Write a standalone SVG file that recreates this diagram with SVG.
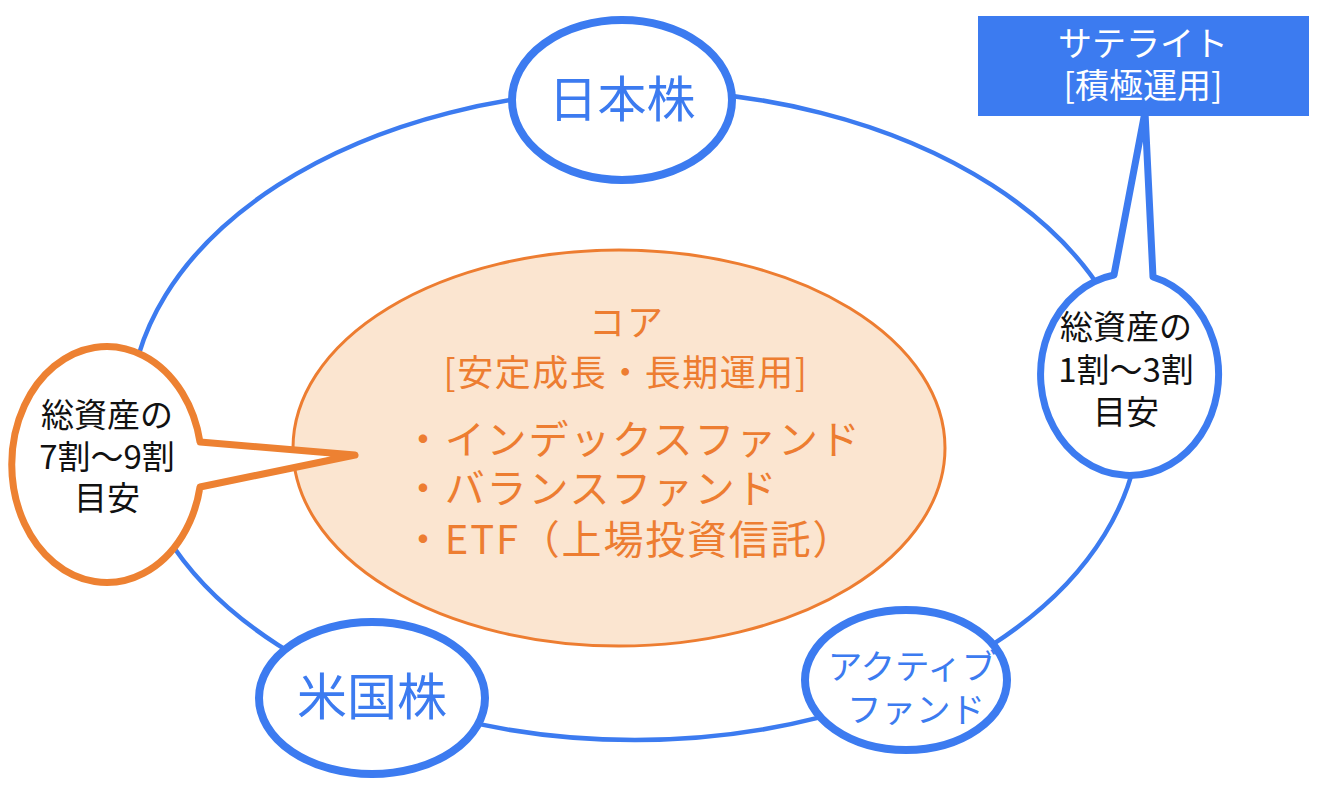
<svg xmlns="http://www.w3.org/2000/svg" width="1320" height="799" viewBox="0 0 1320 799">
<style>
.t{font-family:"Noto Sans CJK JP","Noto Sans",sans-serif;}
.blue{fill:#3c7bf0;}
.or{fill:#ed7d31;}
.blk{fill:#111;}
.node{fill:#fff;stroke:#3c7bf0;stroke-width:8;}
</style>
<rect width="1320" height="799" fill="#fff"/>
<g id="connectors">
<ellipse cx="635" cy="415" rx="505" ry="325" fill="none" stroke="#3c7bf0" stroke-width="4.5"/>
</g>
<g id="core">
<ellipse cx="619" cy="448" rx="326" ry="198" fill="#fbe5d0" stroke="#ed7d31" stroke-width="3"/>
<text class="t or" x="627" y="336" font-size="36" letter-spacing="2" text-anchor="middle">コア</text>
<text class="t or" x="626" y="386" font-size="36" letter-spacing="1.5" text-anchor="middle">[安定成長・長期運用]</text>
<text class="t or" x="403" y="454" font-size="40" letter-spacing="1.8">・インデックスファンド</text>
<text class="t or" x="403" y="503" font-size="40" letter-spacing="1.8">・バランスファンド</text>
<text class="t or" x="403" y="554" font-size="40" letter-spacing="1.8">・ETF（上場投資信託）</text>
</g>
<g id="nihon">
<ellipse class="node" cx="622" cy="100" rx="110" ry="80"/>
<text class="t blue" x="622" y="117" font-size="49" text-anchor="middle">日本株</text>
</g>
<g id="beikoku">
<ellipse class="node" cx="372" cy="698" rx="113" ry="76"/>
<text class="t blue" x="372" y="715" font-size="50" text-anchor="middle">米国株</text>
</g>
<g id="active">
<ellipse class="node" cx="906" cy="680" rx="101" ry="70"/>
<text class="t blue" x="912" y="679" font-size="34.5" text-anchor="middle">アクティブ</text>
<text class="t blue" x="916" y="722" font-size="34.5" text-anchor="middle">ファンド</text>
</g>
<g id="satellite">
<rect x="978" y="16" width="331" height="100" fill="#3c7bf0"/>
<text class="t" x="1143" y="56" font-size="34" fill="#fff" text-anchor="middle">サテライト</text>
<text class="t" x="1143" y="98" font-size="34" fill="#fff" text-anchor="middle">[積極運用]</text>
</g>
<g id="right-callout">
<path d="M1153,277 A89,101 0 1 1 1114,275 L1145,112 Z" fill="#fff" stroke="#3c7bf0" stroke-width="7" stroke-linejoin="round"/>
<text class="t blk" x="1126" y="339" font-size="33" text-anchor="middle">総資産の</text>
<text class="t blk" x="1126" y="382" font-size="33" text-anchor="middle">1割～3割</text>
<text class="t blk" x="1126" y="424" font-size="33" text-anchor="middle">目安</text>
</g>
<g id="left-callout">
<path d="M200,442 A95,118 0 1 0 200,487 L355,455 Z" fill="#fff" stroke="#ed8132" stroke-width="7" stroke-linejoin="round"/>
<text class="t blk" x="107" y="427" font-size="33" text-anchor="middle">総資産の</text>
<text class="t blk" x="107" y="469" font-size="33" text-anchor="middle">7割～9割</text>
<text class="t blk" x="107" y="510" font-size="33" text-anchor="middle">目安</text>
</g>
</svg>
